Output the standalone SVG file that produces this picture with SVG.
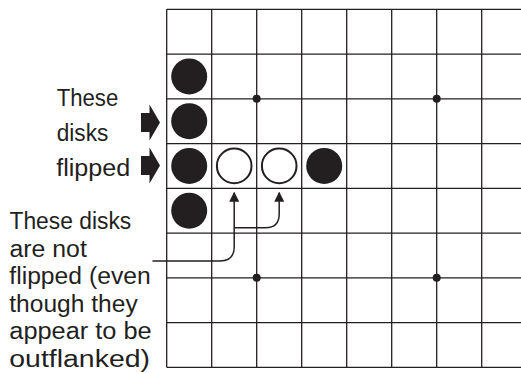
<svg xmlns="http://www.w3.org/2000/svg" width="521" height="373" viewBox="0 0 521 373">
  <style>
    .grid { stroke: #231f20; stroke-width: 1.3; fill: none; }
    .lbl { font-family: "Liberation Sans", Arial, sans-serif; font-size: 23px; fill: #231f20; }
    .black { fill: #231f20; }
    .white { fill: #ffffff; stroke: #231f20; stroke-width: 2; }
    .dot { fill: #231f20; }
    .conn { stroke: #231f20; stroke-width: 1.5; fill: none; }
    .blk { fill: #231f20; }
  </style>
  <defs>
    <marker id="ah" viewBox="0 0 10 10" refX="9" refY="5" markerUnits="userSpaceOnUse" markerWidth="10" markerHeight="10" orient="auto">
      <path d="M0,0 L10,5 L0,10 z" fill="#231f20"/>
    </marker>
  </defs>
  <rect width="521" height="373" fill="#ffffff"/>

  <g id="board">
    <path class="grid" d="M166.7,9.3 H521 M166.7,54.05 H521 M166.7,98.8 H521 M166.7,143.55 H521 M166.7,188.3 H521 M166.7,233.05 H521 M166.7,277.8 H521 M166.7,322.55 H521 M166.7,367.3 H521"/>
    <path class="grid" d="M166.7,9.3 V367.3 M211.7,9.3 V367.3 M256.7,9.3 V367.3 M301.7,9.3 V367.3 M346.7,9.3 V367.3 M391.7,9.3 V367.3 M436.7,9.3 V367.3 M481.7,9.3 V367.3"/>
    <circle class="dot" cx="256.7" cy="98.8" r="4"/>
    <circle class="dot" cx="436.7" cy="98.8" r="4"/>
    <circle class="dot" cx="256.7" cy="277.8" r="4"/>
    <circle class="dot" cx="436.7" cy="277.8" r="4"/>
  </g>

  <g id="disks">
    <circle class="black" cx="189.2" cy="76.4" r="18"/>
    <circle class="black" cx="189.2" cy="121.2" r="18"/>
    <circle class="black" cx="189.2" cy="165.9" r="18"/>
    <circle class="black" cx="189.2" cy="210.7" r="18"/>
    <circle class="white" cx="234.2" cy="165.9" r="17.3"/>
    <circle class="white" cx="279.2" cy="165.9" r="17.3"/>
    <circle class="black" cx="324.2" cy="165.9" r="18"/>
  </g>

  <g id="flipped-label">
    <text class="lbl" x="56.7" y="105.5" textLength="61.6" lengthAdjust="spacingAndGlyphs">These</text>
    <text class="lbl" x="56.7" y="141" textLength="51.6" lengthAdjust="spacingAndGlyphs">disks</text>
    <text class="lbl" x="56.2" y="176.2" textLength="74" lengthAdjust="spacingAndGlyphs">flipped</text>
    <polygon class="blk" points="141,113 149.5,113 149.5,104.5 160,122.5 149.5,140.5 149.5,132 141,132"/>
    <polygon class="blk" points="141,156 149.5,156 149.5,147.5 160,165.5 149.5,183.5 149.5,175 141,175"/>
  </g>

  <g id="not-flipped-label">
    <text class="lbl" x="9.5" y="229.3" textLength="121.7" lengthAdjust="spacingAndGlyphs">These disks</text>
    <text class="lbl" x="9.5" y="256.7" textLength="77.3" lengthAdjust="spacingAndGlyphs">are not</text>
    <text class="lbl" x="9.3" y="284.3" textLength="141.4" lengthAdjust="spacingAndGlyphs">flipped (even</text>
    <text class="lbl" x="9.3" y="311.7" textLength="128.4" lengthAdjust="spacingAndGlyphs">though they</text>
    <text class="lbl" x="9.3" y="339.3" textLength="142.4" lengthAdjust="spacingAndGlyphs">appear to be</text>
    <text class="lbl" x="9.3" y="366.7" textLength="140.7" lengthAdjust="spacingAndGlyphs">outflanked)</text>
  </g>

  <g id="connectors">
    <path class="conn" marker-end="url(#ah)" d="M152.5,261 H220 Q234.2,261 234.2,246.8 V192.7"/>
    <path class="conn" marker-end="url(#ah)" d="M234.2,227.7 H265.5 Q279.2,227.7 279.2,214 V192.7"/>
  </g>
</svg>
